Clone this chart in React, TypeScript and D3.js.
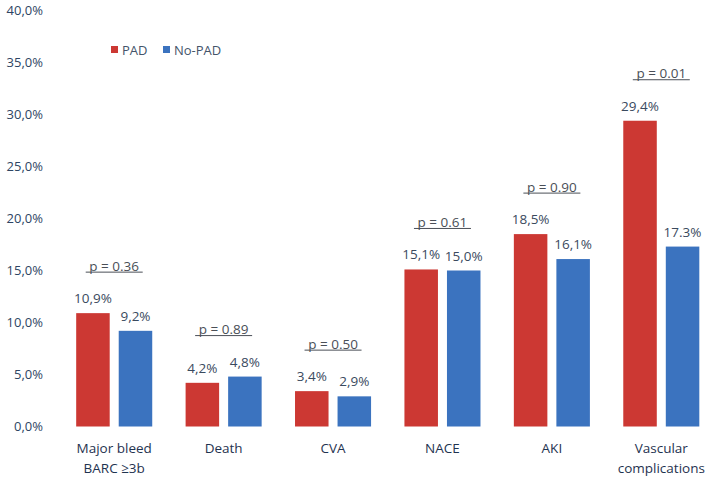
import React from 'react';
import * as d3 from 'd3';

// Chart data
const categories = ['Major bleed|BARC ≥3b', 'Death', 'CVA', 'NACE', 'AKI', 'Vascular|complications'];
const seriesNames = ['PAD', 'No-PAD'];
const padValues = [10.9, 4.2, 3.4, 15.1, 18.5, 29.4];
const noPadValues = [9.2, 4.8, 2.9, 15.0, 16.1, 17.3];
const valueLabelsPad = ['10,9%', '4,2%', '3,4%', '15,1%', '18,5%', '29,4%'];
const valueLabelsNoPad = ['9,2%', '4,8%', '2,9%', '15,0%', '16,1%', '17.3%'];
const pValues = ['p = 0.36', 'p = 0.89', 'p = 0.50', 'p = 0.61', 'p = 0.90', 'p = 0.01'];
const yTicks = [0, 5, 10, 15, 20, 25, 30, 35, 40];

const colors = ['#cc3833', '#3b73bf'];
const FONT = '"Open Sans", "Noto Sans", sans-serif';

const App = () => {
  const width = 709;
  const height = 477;

  const y = d3.scaleLinear().domain([0, 40]).range([426.5, 10.5]);
  const x0 = d3.scaleBand<string>()
    .domain(categories)
    .range([59.5, 716])
    .paddingInner(0.305)
    .paddingOuter(0.1525);
  const x1 = d3.scaleBand<string>()
    .domain(seriesNames)
    .range([0, x0.bandwidth()])
    .paddingInner(0.212);

  const series = [padValues, noPadValues];
  const labels = [valueLabelsPad, valueLabelsNoPad];

  return (
    <svg width={width} height={height} style={{ position: 'absolute', left: 0, top: 0, background: '#fff' }}
      fontFamily={FONT}>
      {/* y axis labels */}
      {yTicks.map(t => (
        <text key={t} x={43} y={y(t)} dy="0.35em" textAnchor="end" fontSize={13} fill="#2e4563">
          {t.toFixed(1).replace('.', ',') + '%'}
        </text>
      ))}

      {/* legend */}
      {seriesNames.map((s, i) => {
        const lx = i === 0 ? 111 : 163;
        return (
          <g key={s}>
            <rect x={lx} y={46} width={7} height={7} fill={colors[i]} />
            <text x={lx + 11} y={50} dy="0.35em" fontSize={13} fill="#44546a">{s}</text>
          </g>
        );
      })}

      {categories.map((c, ci) => {
        const gx = x0(c) as number;
        const maxV = Math.max(padValues[ci], noPadValues[ci]);
        const py = y(maxV) - 47;
        const pw = 57;
        const cx = gx + x0.bandwidth() / 2;
        const lines = c.split('|');
        return (
          <g key={c}>
            {seriesNames.map((s, si) => {
              const v = series[si][ci];
              const bx = gx + (x1(s) as number);
              return (
                <g key={s}>
                  <rect x={bx} y={y(v)} width={x1.bandwidth()} height={y(0) - y(v)} fill={colors[si]} />
                  <text x={bx + x1.bandwidth() / 2} y={y(v) - 10} textAnchor="middle" fontSize={13.5} fill="#3a4a5e">
                    {labels[si][ci]}
                  </text>
                </g>
              );
            })}
            <text x={cx} y={py} dy="0.35em" textAnchor="middle" fontSize={13.5} fill="#4a4f57">{pValues[ci]}</text>
            <line x1={cx - pw / 2} x2={cx + pw / 2} y1={py + 6} y2={py + 6} stroke="#4a4f57" strokeWidth={1} />
            {lines.map((l, li) => (
              <text key={li} x={cx} y={448 + li * 20} dy="0.35em" textAnchor="middle" fontSize={13.5} fill="#1f3350">
                {l}
              </text>
            ))}
          </g>
        );
      })}
    </svg>
  );
};

export default App;
